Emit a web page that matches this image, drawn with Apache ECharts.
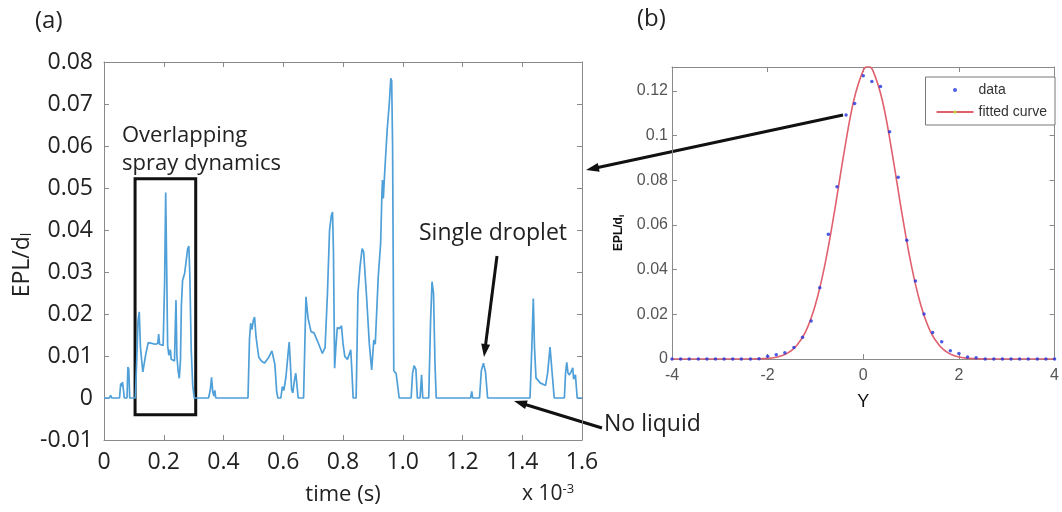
<!DOCTYPE html>
<html>
<head>
<meta charset="utf-8">
<script src="https://cdn.jsdelivr.net/npm/echarts@6/dist/echarts.min.js"></script>
<style>
  html, body { margin: 0; background: #fff; }
  #chart { width: 1062px; height: 512px; }
</style>
</head>
<body>
<div id="chart"></div>
<script>
// (a) EPL/d_l time trace, time in units of 1e-3 s
const timeMs = [
  0, 0.018, 0.022, 0.026, 0.052, 0.056, 0.059, 0.062, 0.065, 0.068, 0.077, 0.080, 0.083, 0.086,
  0.105, 0.110, 0.114, 0.118, 0.122, 0.130, 0.140, 0.148, 0.160, 0.172, 0.180, 0.183, 0.186, 0.198,
  0.203, 0.2065, 0.210, 0.213, 0.217, 0.222, 0.225, 0.236, 0.239, 0.241, 0.244, 0.248, 0.252, 0.256,
  0.259, 0.263, 0.270, 0.280, 0.284, 0.287, 0.292, 0.297, 0.302, 0.350, 0.356, 0.360, 0.364, 0.368,
  0.371, 0.374, 0.482, 0.487, 0.491, 0.495, 0.500, 0.504, 0.509, 0.518, 0.527, 0.537, 0.550, 0.562,
  0.568, 0.572, 0.578, 0.582, 0.592, 0.597, 0.602, 0.609, 0.616, 0.620, 0.624, 0.628, 0.632, 0.638,
  0.642, 0.646, 0.650, 0.668, 0.672, 0.676, 0.683, 0.693, 0.703, 0.715, 0.731, 0.740, 0.748, 0.755,
  0.761, 0.765, 0.768, 0.772, 0.776, 0.781, 0.788, 0.795, 0.800, 0.806, 0.815, 0.826, 0.830, 0.834,
  0.844, 0.847, 0.850, 0.857, 0.864, 0.869, 0.874, 0.879, 0.888, 0.896, 0.903, 0.908, 0.918, 0.926,
  0.930, 0.932, 0.935, 0.940, 0.948, 0.955, 0.960, 0.963, 0.966, 0.970, 0.978, 0.988, 1.028, 1.033,
  1.038, 1.044, 1.049, 1.058, 1.063, 1.067, 1.087, 1.093, 1.098, 1.103, 1.108, 1.112, 1.227, 1.231,
  1.234, 1.257, 1.263, 1.270, 1.277, 1.284, 1.426, 1.432, 1.437, 1.441, 1.446, 1.460, 1.478, 1.485,
  1.493, 1.500, 1.507, 1.541, 1.545, 1.549, 1.553, 1.557, 1.562, 1.569, 1.572, 1.578, 1.584, 1.600
];
const eplTime = [
  0, 0, 0.0006, 0, 0, 0.0035, 0.0028, 0.0038, 0.002, 0, 0, 0.0074, 0.0068, 0,
  0, 0.010, 0.0185, 0.0205, 0.012, 0.0062, 0.0105, 0.0132, 0.0130, 0.0128, 0.0130, 0.0152, 0.0128, 0.0125,
  0.028, 0.0489, 0.030, 0.0125, 0.0102, 0.0115, 0.0092, 0.0088, 0.018, 0.0233, 0.010, 0.0065, 0.0047, 0.009,
  0.022, 0.028, 0.0297, 0.0355, 0.0362, 0.030, 0.0115, 0.003, 0, 0, 0.002, 0.0049, 0.0015, 0.0005,
  0.0018, 0, 0, 0.014, 0.0178, 0.0163, 0.0185, 0.0193, 0.0145, 0.0097, 0.0088, 0.0083, 0.0095, 0.0112,
  0.0110, 0.008, 0.0015, 0, 0, 0.0027, 0.0018, 0.005, 0.0105, 0.0133, 0.008, 0.002, 0.0012, 0.0045,
  0.0059, 0.003, 0, 0, 0.012, 0.0241, 0.019, 0.0158, 0.0155, 0.0135, 0.0106, 0.012, 0.025, 0.040,
  0.0435, 0.0443, 0.035, 0.0071, 0.012, 0.0168, 0.0165, 0.0172, 0.013, 0.0099, 0.0092, 0.0115, 0.006, 0,
  0, 0.012, 0.0249, 0.0313, 0.0356, 0.0348, 0.0345, 0.024, 0.013, 0.0067, 0.0138, 0.0128, 0.0289, 0.0368,
  0.048, 0.0519, 0.0475, 0.0543, 0.064, 0.0702, 0.0761, 0.0755, 0.060, 0.0065, 0.0058, 0, 0, 0.006,
  0.0077, 0.0068, 0, 0, 0.0055, 0, 0, 0.018, 0.0277, 0.025, 0.008, 0, 0, 0.0016,
  0, 0, 0.0065, 0.0083, 0.0062, 0, 0, 0.012, 0.0237, 0.012, 0.0048, 0.0036, 0.003, 0.006,
  0.0121, 0.006, 0, 0, 0.006, 0.0085, 0.006, 0.0055, 0.006, 0.0072, 0.0045, 0.0055, 0, 0
];

// (b) EPL/d_i profile across Y
const yPos = [
  -4.00, -3.82, -3.64, -3.45, -3.27, -3.09, -2.91, -2.73, -2.55, -2.36, -2.18, -2.00, -1.82, -1.64, -1.45,
  -1.27, -1.09, -0.91, -0.73, -0.55, -0.36, -0.18, 0, 0.18, 0.36, 0.55, 0.73, 0.91, 1.09, 1.27,
  1.45, 1.64, 1.82, 2.00, 2.18, 2.36, 2.55, 2.73, 2.91, 3.09, 3.27, 3.45, 3.64, 3.82, 4.00
];
const eplProfile = [
  0, 0, 0, 0, 0, 0, 0, 0, 0, 0, 0.0001, 0.0012, 0.0019, 0.0028, 0.0052,
  0.0097, 0.017, 0.0319, 0.0558, 0.0771, 0.1092, 0.1144, 0.1268, 0.1242, 0.1220, 0.1017, 0.0813, 0.0532, 0.0349, 0.0201,
  0.0119, 0.0077, 0.0037, 0.0025, 0.0009, 0.0006, 0, 0, 0, 0, 0, 0, 0, 0, 0
];
const fitY = [
  -4, -2.6, -2.2, -2.0, -1.8, -1.6, -1.4, -1.2, -1.0, -0.8, -0.6, -0.4, -0.2, 0, 0.1,
  0.2, 0.4, 0.6, 0.8, 1.0, 1.2, 1.4, 1.6, 1.8, 2.0, 2.2, 2.6, 4
];
const fitEpl = [
  0, 0, 0.0001, 0.0003, 0.0009, 0.0024, 0.0058, 0.0125, 0.0244, 0.0425, 0.0663, 0.0926, 0.1156, 0.1292, 0.131,
  0.1292, 0.1156, 0.0926, 0.0663, 0.0425, 0.0244, 0.0125, 0.0058, 0.0024, 0.0009, 0.0003, 0, 0
];

const chart = echarts.init(document.getElementById('chart'));

const axisGray = '#8a8a8a';
const fontA = '"Open Sans", sans-serif';
const fontB = '"Liberation Sans", Arial, sans-serif';

function zip(xs, ys) {
  return xs.map(function (x, i) { return [x, ys[i]]; });
}

function arrow(x1, y1, x2, y2) {
  // tip at (x2, y2)
  const a = Math.atan2(y2 - y1, x2 - x1), L = 13, W = 4.5;
  const bx = x2 - L * Math.cos(a), by = y2 - L * Math.sin(a);
  const nx = -Math.sin(a) * W, ny = Math.cos(a) * W;
  return [
    { type: 'line', shape: { x1: x1, y1: y1, x2: bx + 2 * Math.cos(a), y2: by + 2 * Math.sin(a) },
      style: { stroke: '#111', lineWidth: 3 } },
    { type: 'polygon', shape: { points: [[x2, y2], [bx + nx, by + ny], [bx - nx, by - ny]] },
      style: { fill: '#111' } }
  ];
}

function boxAxis(extra) {
  return Object.assign({
    axisLine: { show: true, onZero: false, lineStyle: { color: axisGray, width: 1 } },
    axisTick: { show: true, inside: true, length: 5, lineStyle: { color: axisGray } },
    splitLine: { show: false }
  }, extra);
}

const option = {
  backgroundColor: '#fff',
  animation: false,
  grid: [
    { left: 104, top: 62, width: 478, height: 378 },
    { left: 672, top: 67, width: 385, height: 292 }
  ],
  legend: {
    data: [{ name: 'data', icon: 'circle' }, { name: 'fitted curve' }],
    orient: 'vertical',
    right: 7,
    top: 77,
    itemWidth: 37,
    itemHeight: 4,
    itemGap: 8,
    padding: [6, 8, 6, 10],
    borderColor: '#777',
    borderWidth: 1,
    backgroundColor: '#fff',
    textStyle: { fontFamily: fontB, fontSize: 14, color: '#333' }
  },
  xAxis: [
    boxAxis({
      type: 'value', gridIndex: 0, min: 0, max: 1.6, interval: 0.2,
      name: 'time (s)', nameLocation: 'middle', nameGap: 44,
      nameTextStyle: { fontFamily: fontA, fontSize: 22, color: '#222' },
      axisLabel: { margin: 11, fontFamily: fontA, fontSize: 23, color: '#222',
        formatter: function (v) { return v === 0 ? '0' : v.toFixed(1); } }
    }),
    boxAxis({
      type: 'value', gridIndex: 0, position: 'top', min: 0, max: 1.6, interval: 0.2,
      axisLabel: { show: false }
    }),
    boxAxis({
      type: 'value', gridIndex: 1, min: -4, max: 4, interval: 2,
      name: 'Y', nameLocation: 'middle', nameGap: 34,
      nameTextStyle: { fontFamily: fontB, fontSize: 18, color: '#111' },
      axisLabel: { margin: 9, fontFamily: fontB, fontSize: 16, color: '#555' }
    }),
    boxAxis({
      type: 'value', gridIndex: 1, position: 'top', min: -4, max: 4, interval: 2,
      axisLabel: { show: false }
    })
  ],
  yAxis: [
    boxAxis({
      type: 'value', gridIndex: 0, min: -0.01, max: 0.08, interval: 0.01,
      name: '{n|EPL/d}{s|l}', nameLocation: 'middle', nameGap: 70, nameRotate: 90,
      nameTextStyle: {
        padding: [0, 28, 0, 0],
        rich: {
          n: { fontFamily: fontA, fontSize: 23, color: '#222' },
          s: { fontFamily: fontA, fontSize: 14, color: '#222', verticalAlign: 'bottom', padding: [10, 0, 0, 0] }
        }
      },
      axisLabel: { margin: 11, fontFamily: fontA, fontSize: 23, color: '#222',
        formatter: function (v) { return v === 0 ? '0' : v.toFixed(2); } }
    }),
    boxAxis({
      type: 'value', gridIndex: 0, position: 'right', min: -0.01, max: 0.08, interval: 0.01,
      axisLabel: { show: false }
    }),
    boxAxis({
      type: 'value', gridIndex: 1, min: 0, max: 0.1307, interval: 0.02,
      name: '{n|EPL/d}{s|i}', nameLocation: 'middle', nameGap: 46, nameRotate: 90,
      nameTextStyle: {
        padding: [0, 40, 0, 0],
        rich: {
          n: { fontFamily: fontB, fontSize: 12, fontWeight: 'bold', color: '#111' },
          s: { fontFamily: fontB, fontSize: 8, fontWeight: 'bold', color: '#111', verticalAlign: 'bottom', padding: [6, 0, 0, 0] }
        }
      },
      axisLabel: { margin: 4, fontFamily: fontB, fontSize: 16, color: '#555', showMaxLabel: false,
        formatter: function (v) { return v === 0 ? '0' : String(Math.round(v * 100) / 100); } }
    }),
    boxAxis({
      type: 'value', gridIndex: 1, position: 'right', min: 0, max: 0.1307, interval: 0.02,
      axisLabel: { show: false }
    })
  ],
  series: [
    {
      name: 'EPL trace',
      type: 'line',
      xAxisIndex: 0,
      yAxisIndex: 0,
      data: zip(timeMs, eplTime),
      showSymbol: false,
      lineStyle: { color: '#4f9fd8', width: 1.7 },
      markArea: {
        silent: true,
        itemStyle: { color: 'rgba(0,0,0,0)', borderColor: '#111', borderWidth: 3 },
        data: [[{ coord: [0.104, 0.0522] }, { coord: [0.307, -0.004] }]]
      }
    },
    {
      name: 'fitted curve',
      type: 'line',
      xAxisIndex: 2,
      yAxisIndex: 2,
      data: zip(fitY, fitEpl),
      smooth: 0.4,
      symbol: 'none',
      lineStyle: { color: '#e0606e', width: 1.6 },
      z: 2
    },
    {
      name: 'data',
      type: 'scatter',
      xAxisIndex: 2,
      yAxisIndex: 2,
      data: zip(yPos, eplProfile),
      symbolSize: 3.5,
      itemStyle: { color: '#2233dd' },
      z: 3
    }
  ],
  graphic: [
    { type: 'text', left: 35, top: 9, style: { text: '(a)', font: '24px ' + fontA, fill: '#222' } },
    { type: 'text', left: 637, top: 7, style: { text: '(b)', font: '24px ' + fontA, fill: '#222' } },
    { type: 'text', left: 122, top: 122, style: { text: 'Overlapping\nspray dynamics', font: '22px ' + fontA, fill: '#222', lineHeight: 28 } },
    { type: 'text', left: 419, top: 222, style: { text: 'Single droplet', font: '23px ' + fontA, fill: '#222' } },
    { type: 'text', left: 604, top: 413, style: { text: 'No liquid', font: '23px ' + fontA, fill: '#222' } },
    { type: 'text', left: 522, top: 483, style: {
      text: '{n|x 10}{s|-3}',
      rich: {
        n: { fontFamily: fontA, fontSize: 21, fill: '#222' },
        s: { fontFamily: fontA, fontSize: 13, fill: '#222', verticalAlign: 'top', padding: [0, 0, 10, 0] }
      }
    } }
  ].concat(
    arrow(843, 115, 586, 170),
    arrow(497, 256, 484, 357),
    arrow(602, 428, 514, 401)
  )
};

chart.setOption(option);
</script>
</body>
</html>
